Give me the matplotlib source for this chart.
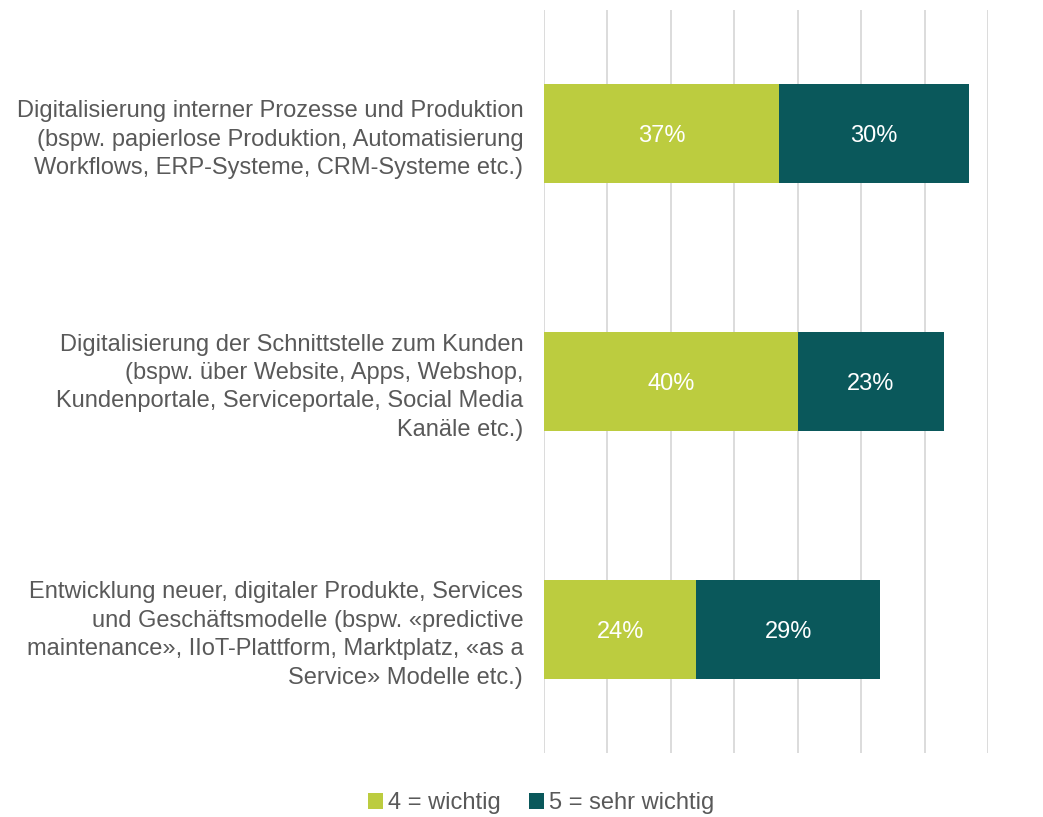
import matplotlib
matplotlib.use("Agg")
import matplotlib.pyplot as plt
from matplotlib.patches import Patch

plt.rcParams['font.family'] = ['Liberation Sans', 'DejaVu Sans']

categories = [
    "Digitalisierung interner Prozesse und Produktion\n(bspw. papierlose Produktion, Automatisierung\nWorkflows, ERP-Systeme, CRM-Systeme etc.)",
    "Digitalisierung der Schnittstelle zum Kunden\n(bspw. über Website, Apps, Webshop,\nKundenportale, Serviceportale, Social Media\nKanäle etc.)",
    "Entwicklung neuer, digitaler Produkte, Services\nund Geschäftsmodelle (bspw. «predictive\nmaintenance», IIoT-Plattform, Marktplatz, «as a\nService» Modelle etc.)",
]
series_names = ["4 = wichtig", "5 = sehr wichtig"]
wichtig = [37, 40, 24]
sehr_wichtig = [30, 23, 29]
colors = ["#BCCC3F", "#0A585B"]
text_color = "#595959"
fs = 17

fig = plt.figure(figsize=(10.43, 8.17), dpi=100)
ax = fig.add_axes([544/1043, 1 - 753/817, (988-544)/1043, (753-10)/817])

y = list(range(len(categories)))
b1 = ax.barh(y, wichtig, height=0.4, color=colors[0], zorder=3)
b2 = ax.barh(y, sehr_wichtig, left=wichtig, height=0.4, color=colors[1], zorder=3)
for vals, lefts in [(wichtig, [0]*3), (sehr_wichtig, wichtig)]:
    for yi, v, l in zip(y, vals, lefts):
        ax.text(l + v/2, yi + 0.01, f"{v}%", ha="center", va="center", color="white", fontsize=fs)

ax.set_xlim(0, 70)
ax.set_ylim(2.5, -0.5)
ax.set_xticks(range(0, 71, 10))
ax.set_xticklabels([])
ax.grid(axis="x", color="#D9D9D9", linewidth=1.3, zorder=0)
ax.tick_params(axis="x", length=0)
ax.tick_params(axis="y", length=0, pad=15, labelcolor=text_color, labelsize=fs)
ax.set_yticks(y)
ax.set_yticklabels(categories, ha="right", linespacing=1.38)
for s in ax.spines.values():
    s.set_visible(False)

handles = [Patch(facecolor=c, label=n) for c, n in zip(colors, series_names)]
fig.legend(handles=handles, loc="center", bbox_to_anchor=(541/1043, 1 - 803/817), ncol=2,
           frameon=False, fontsize=fs, labelcolor=text_color, handlelength=0.65, handleheight=0.65,
           handletextpad=0.2, columnspacing=1.2)

fig.savefig("out.png", dpi=100)
